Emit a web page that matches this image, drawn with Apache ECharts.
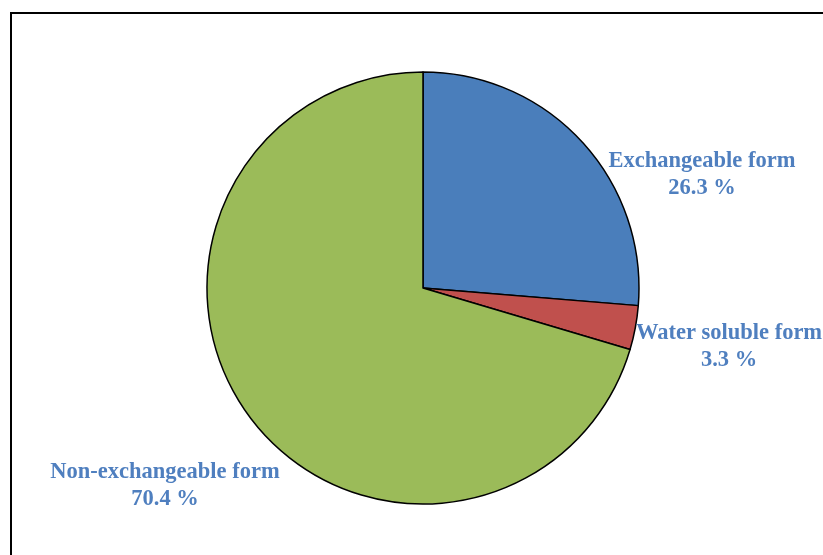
<!DOCTYPE html>
<html>
<head>
<meta charset="utf-8">
<script src="https://cdn.jsdelivr.net/npm/echarts@6/dist/echarts.min.js"></script>
<style>html,body{margin:0;padding:0;background:#fff;}#c{width:823px;height:555px;}</style>
</head>
<body>
<div id="c"></div>
<script>
var categories = ['Exchangeable form', 'Water soluble form', 'Non-exchangeable form'];
var values = [26.3, 3.3, 70.4];
var colors = ['#4a7ebb', '#c0504d', '#9bbb59'];
var labelPos = [[702, 175], [729, 347], [165, 486]];

var chart = echarts.init(document.getElementById('c'), null, {renderer: 'canvas'});
chart.setOption({
  backgroundColor: '#ffffff',
  animation: false,
  graphic: [
    {type: 'line', shape: {x1: 11, y1: 12, x2: 11, y2: 555}, style: {stroke: '#000', lineWidth: 2}},
    {type: 'line', shape: {x1: 10, y1: 13, x2: 823, y2: 13}, style: {stroke: '#000', lineWidth: 2}}
  ],
  series: [{
    type: 'pie',
    center: [423, 288],
    radius: 216,
    startAngle: 90,
    clockwise: true,
    silent: true,
    itemStyle: {borderColor: '#000', borderWidth: 1.5},
    label: {
      show: true,
      position: 'outside',
      formatter: function (p) { return p.name + '\n' + p.value.toFixed(1) + ' %'; },
      fontFamily: '"Liberation Serif", "Times New Roman", serif',
      fontWeight: 'bold',
      fontSize: 22.5,
      lineHeight: 27,
      color: '#4f7fbf',
      align: 'center',
      overflow: 'none',
      width: 300
    },
    labelLine: {show: false},
    labelLayout: function (params) {
      var p = labelPos[params.dataIndex];
      return {x: p[0], y: p[1], align: 'center', verticalAlign: 'middle'};
    },
    data: categories.map(function (c, i) {
      return {name: c, value: values[i], itemStyle: {color: colors[i]}};
    })
  }]
});
</script>
</body>
</html>
